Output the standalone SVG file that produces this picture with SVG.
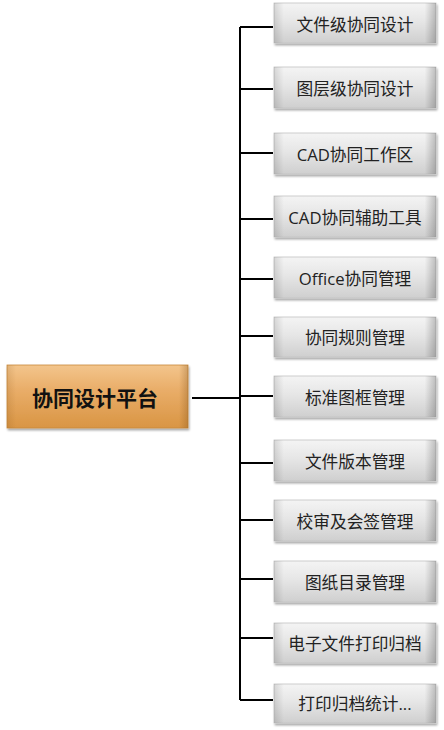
<svg xmlns="http://www.w3.org/2000/svg" width="444" height="730" viewBox="0 0 444 730">
<defs>
<linearGradient id="gLeaf" x1="0" y1="0" x2="0" y2="1">
<stop offset="0" stop-color="#f4f4f4"/>
<stop offset="0.45" stop-color="#e6e6e6"/>
<stop offset="1" stop-color="#cfcfcf"/>
</linearGradient>
<linearGradient id="gLeafSide" x1="0" y1="0" x2="1" y2="0">
<stop offset="0" stop-color="#000" stop-opacity="0.12"/>
<stop offset="0.06" stop-color="#000" stop-opacity="0"/>
<stop offset="0.93" stop-color="#000" stop-opacity="0"/>
<stop offset="1" stop-color="#000" stop-opacity="0.22"/>
</linearGradient>
<linearGradient id="gRoot" x1="0" y1="0" x2="0" y2="1">
<stop offset="0" stop-color="#f3c58c"/>
<stop offset="0.4" stop-color="#e9ad68"/>
<stop offset="1" stop-color="#d99544"/>
</linearGradient>
<linearGradient id="gRootSide" x1="0" y1="0" x2="1" y2="0">
<stop offset="0" stop-color="#7a4a10" stop-opacity="0.15"/>
<stop offset="0.05" stop-color="#7a4a10" stop-opacity="0"/>
<stop offset="0.95" stop-color="#7a4a10" stop-opacity="0"/>
<stop offset="1" stop-color="#7a4a10" stop-opacity="0.3"/>
</linearGradient>
<filter id="sh" x="-10%" y="-20%" width="125%" height="150%">
<feGaussianBlur in="SourceAlpha" stdDeviation="1.2"/>
<feOffset dx="1" dy="1.5" result="b"/>
<feComponentTransfer><feFuncA type="linear" slope="0.35"/></feComponentTransfer>
<feMerge><feMergeNode/><feMergeNode in="SourceGraphic"/></feMerge>
</filter>
</defs>
<style>
.leaf rect.b{fill:url(#gLeaf);stroke:#c4c4c4;stroke-width:0.8;filter:url(#sh)}
.leaf rect.s{fill:url(#gLeafSide)}
.leaf text{font-family:"Open Sans","Noto Sans CJK SC",sans-serif;font-size:16.7px;fill:#222;text-anchor:middle;dominant-baseline:central}
.root rect.b{fill:url(#gRoot);stroke:#c98a3e;stroke-width:0.8;filter:url(#sh)}
.root rect.s{fill:url(#gRootSide)}
.root text{font-family:"Noto Sans CJK SC",sans-serif;font-size:21px;font-weight:bold;fill:#111;text-anchor:middle;dominant-baseline:central}
.conn path{stroke:#000;stroke-width:2;fill:none}
</style>
<g class="conn">
<path d="M192 398H240"/>
<path d="M240 27V700"/>
<path d="M240 27H273M240 89H273M240 153H273M240 219H273M240 279H273M240 336H273M240 396H273M240 463H273M240 520H273M240 579H273M240 638H273M240 700H273"/>
</g>
<g id="root" class="root">
<rect class="b" x="7" y="365" width="181" height="63"/>
<rect class="s" x="7" y="365" width="181" height="63"/>
<text x="95" y="397">协同设计平台</text>
</g>
<g id="n1" class="leaf"><rect class="b" x="274" y="3" width="162" height="40"/><rect class="s" x="274" y="3" width="162" height="40"/><text x="355" y="24">文件级协同设计</text></g>
<g id="n2" class="leaf"><rect class="b" x="274" y="67" width="162" height="41"/><rect class="s" x="274" y="67" width="162" height="41"/><text x="355" y="88">图层级协同设计</text></g>
<g id="n3" class="leaf"><rect class="b" x="274" y="133" width="162" height="41"/><rect class="s" x="274" y="133" width="162" height="41"/><text x="355" y="154">CAD协同工作区</text></g>
<g id="n4" class="leaf"><rect class="b" x="274" y="196" width="162" height="41"/><rect class="s" x="274" y="196" width="162" height="41"/><text x="355" y="217">CAD协同辅助工具</text></g>
<g id="n5" class="leaf"><rect class="b" x="274" y="257" width="162" height="41"/><rect class="s" x="274" y="257" width="162" height="41"/><text x="355" y="278">Office协同管理</text></g>
<g id="n6" class="leaf"><rect class="b" x="274" y="317" width="162" height="40"/><rect class="s" x="274" y="317" width="162" height="40"/><text x="355" y="337">协同规则管理</text></g>
<g id="n7" class="leaf"><rect class="b" x="274" y="376" width="162" height="41"/><rect class="s" x="274" y="376" width="162" height="41"/><text x="355" y="397">标准图框管理</text></g>
<g id="n8" class="leaf"><rect class="b" x="274" y="440" width="162" height="41"/><rect class="s" x="274" y="440" width="162" height="41"/><text x="355" y="461">文件版本管理</text></g>
<g id="n9" class="leaf"><rect class="b" x="274" y="500" width="162" height="41"/><rect class="s" x="274" y="500" width="162" height="41"/><text x="355" y="521">校审及会签管理</text></g>
<g id="n10" class="leaf"><rect class="b" x="274" y="561" width="162" height="41"/><rect class="s" x="274" y="561" width="162" height="41"/><text x="355" y="582">图纸目录管理</text></g>
<g id="n11" class="leaf"><rect class="b" x="274" y="623" width="162" height="40"/><rect class="s" x="274" y="623" width="162" height="40"/><text x="355" y="643">电子文件打印归档</text></g>
<g id="n12" class="leaf"><rect class="b" x="274" y="684" width="162" height="39"/><rect class="s" x="274" y="684" width="162" height="39"/><text x="355" y="703">打印归档统计...</text></g>
</svg>
